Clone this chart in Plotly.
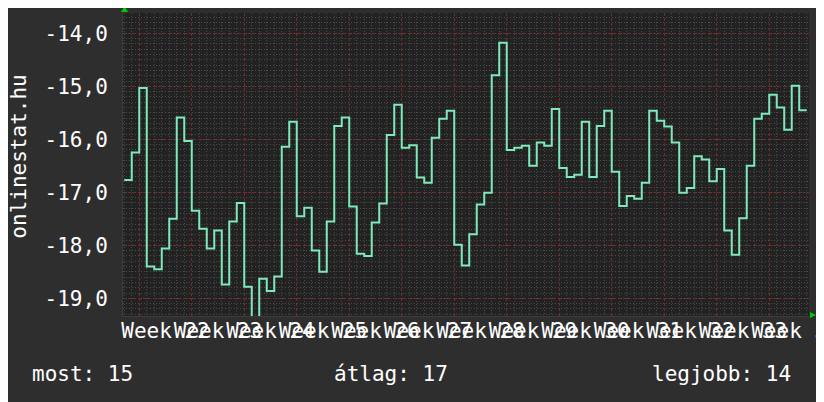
import pandas as pd
import plotly.graph_objects as go

# daily rank values (negative = rank), first day 2021-05-29
start_day = "2021-05-29"
values = [
    -16.77, -16.25, -15.03, -18.40, -18.45, -18.06, -17.50,
    -15.59, -16.03, -17.35, -17.69, -18.06, -17.72, -18.74,
    -17.55, -17.20, -18.78, -19.40, -18.63, -18.86, -18.59,
    -16.14, -15.67, -17.45, -17.29, -18.10, -18.50, -17.55,
    -15.75, -15.59, -17.27, -18.16, -18.20, -17.57, -17.21,
    -15.92, -15.35, -16.16, -16.11, -16.72, -16.82, -15.97,
    -15.61, -15.46, -17.99, -18.38, -17.79, -17.23, -17.01,
    -14.79, -14.18, -16.20, -16.16, -16.12, -16.50, -16.06,
    -16.12, -15.43, -16.54, -16.71, -16.67, -15.67, -16.71,
    -15.75, -15.46, -16.61, -17.26, -17.07, -17.12, -16.82,
    -15.46, -15.65, -15.76, -16.06, -17.01, -16.92, -16.32,
    -16.38, -16.79, -16.56, -17.72, -18.18, -17.49, -16.50,
    -15.61, -15.52, -15.16, -15.40, -15.82, -14.99, -15.45,
]
y_ticks = [-14, -15, -16, -17, -18, -19]
y_ticktext = ["-14,0", "-15,0", "-16,0", "-17,0", "-18,0", "-19,0"]

FONT = "DejaVu Sans Mono"

# step line: each value holds for one whole day, close the last step
days = pd.date_range(start_day, periods=len(values) + 1, freq="D")
y_step = values + [values[-1]]

fig = go.Figure()
fig.add_trace(go.Scatter(
    x=days, y=y_step, mode="lines", line_shape="hv",
    line=dict(color="#7ee9bb", width=2), hoverinfo="skip",
))

most = round(-values[-1])
atlag = round(-sum(values) / len(values))
legjobb = round(-max(values))

# page body adds 8px offset, margins compensate for it
fig.update_layout(
    width=824, height=402,
    margin=dict(l=115, r=23, t=5, b=94),
    paper_bgcolor="#2e2e2e", plot_bgcolor="#222222",
    font=dict(family=FONT, size=21, color="#ffffff"),
    showlegend=False,
    xaxis=dict(
        type="date", automargin=False,
        range=["2021-05-28 20:00", "2021-08-28 07:15"],
        tick0="2021-05-31", dtick=7 * 86400000,
        tickformat="Week %V", ticklabelmode="period",
        tickangle=0, ticklabeloverflow="allow",
        showgrid=True, gridcolor="#6e2c2c", griddash="3px,2px", gridwidth=1,
        minor=dict(dtick=86400000, tick0="2021-05-31", showgrid=True,
                   gridcolor="#4a4a4a", griddash="1px,2px", gridwidth=1),
        zeroline=False, showline=True, linecolor="#3c3c3c",
        tickfont=dict(family=FONT, size=21, color="#ffffff"),
        ticklabelstandoff=-4,
    ),
    yaxis=dict(
        automargin=False,
        range=[-19.334, -13.617],
        tickmode="array", tickvals=y_ticks, ticktext=y_ticktext,
        showgrid=True, gridcolor="#6e2c2c", griddash="3px,2px", gridwidth=1,
        minor=dict(tickmode="linear", tick0=-20, dtick=0.1, showgrid=True,
                   gridcolor="#4a4a4a", griddash="1px,2px", gridwidth=1),
        zeroline=False, showline=True, linecolor="#3c3c3c",
        tickfont=dict(family=FONT, size=21, color="#ffffff"),
        ticklabelstandoff=10,
    ),
    annotations=[
        dict(text="onlinestat.hu", textangle=-90, xref="paper", yref="paper",
             x=-0.152, y=0.525, xanchor="center", yanchor="middle",
             showarrow=False, font=dict(family=FONT, size=21, color="#ffffff")),
        dict(text=f"most: {most}", xref="paper", yref="paper",
             x=-0.135, y=-0.191, xanchor="left", yanchor="middle",
             showarrow=False),
        dict(text=f"átlag: {atlag}", xref="paper", yref="paper",
             x=0.39, y=-0.191, xanchor="center", yanchor="middle",
             showarrow=False),
        dict(text=f"legjobb: {legjobb}", xref="paper", yref="paper",
             x=0.977, y=-0.191, xanchor="right", yanchor="middle",
             showarrow=False),
    ],
    shapes=[
        # axis arrows
        dict(type="path", xref="paper", yref="paper", xsizemode="pixel",
             ysizemode="pixel", xanchor=0, yanchor=1,
             path="M-2,1 L5,1 L1.5,7 Z", fillcolor="#00cc00", line_width=0),
        dict(type="path", xref="paper", yref="paper", xsizemode="pixel",
             ysizemode="pixel", xanchor=1, yanchor=0,
             path="M1,-2 L1,4 L7,1 Z", fillcolor="#00cc00", line_width=0),
    ],
)

fig.write_html("out.html")
